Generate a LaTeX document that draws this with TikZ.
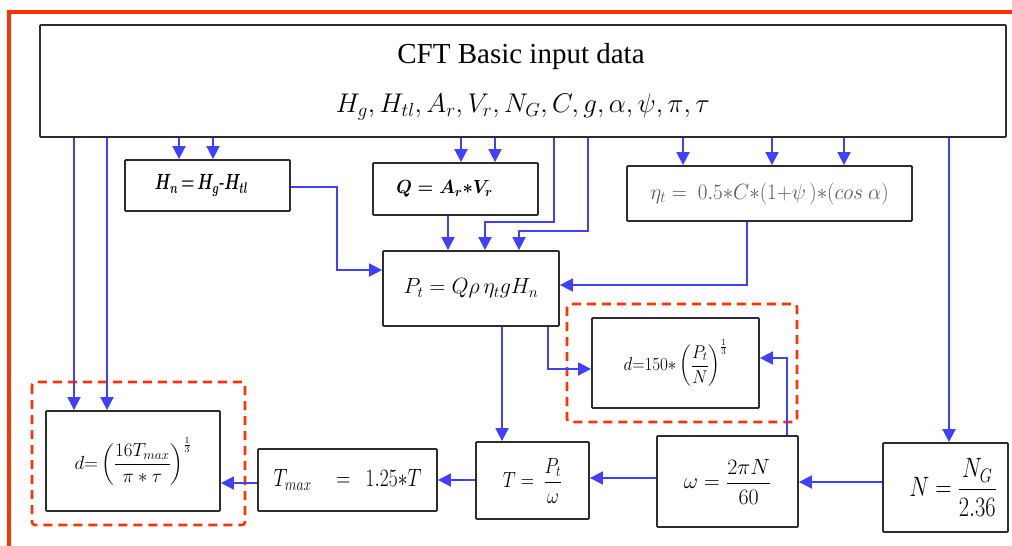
\RequirePackage{fix-cm}
\documentclass[tikz,border=0pt]{standalone}
\usepackage{amsmath}
\usepackage{fontspec}
\setmainfont{Liberation Serif}
\usetikzlibrary{arrows.meta}
\definecolor{lnblue}{RGB}{64,64,255}
\definecolor{frred}{RGB}{255,51,0}
\definecolor{boxgray}{RGB}{45,45,45}
\newcommand{\sqz}[2]{\scalebox{#1}[1]{#2}}
\begin{document}
\begin{tikzpicture}[x=1pt,y=-1pt,
  box/.style={draw=boxgray, line width=1.8pt, fill=white, inner sep=0pt, rounded corners=0.8pt, align=center},
  arr/.style={draw=lnblue, line width=1.8pt, -{Triangle[length=13pt,width=13pt]}},
  dashbox/.style={draw=frred, line width=2.6pt, dash pattern=on 9pt off 6pt, rounded corners=3pt},
  frame/.style={draw=frred, line width=4pt}]
\useasboundingbox (0,0) rectangle (1012,546);
% outer red frame
\draw[frame] (9,546) -- (9,12) -- (1012,12);
% boxes
\node[box, minimum width=966pt, minimum height=112pt] (top) at (523,81) {};
\node (title) at (521,57) {\fontsize{29}{32}\selectfont CFT Basic input data};
\node (vars) at (523,107) {\fontsize{27}{30}\selectfont $H_g,H_{tl},A_r,V_r,N_G,C,g,\alpha,\psi,\pi,\tau$};
\node[box, minimum width=165pt, minimum height=51pt] (hn) at (207.5,185.5) {\fontsize{22}{24}\selectfont\sqz{0.70}{$\boldsymbol{H_n\,{=}\,H_g\text{-}H_{tl}}$}\hspace*{12pt}};
\node[box, minimum width=165pt, minimum height=52pt] (q) at (455.5,189) {\fontsize{19}{21}\selectfont\sqz{0.95}{$\boldsymbol{Q = A_r{*}V_r}$}\hspace*{22pt}};
\node[box, minimum width=285pt, minimum height=55pt] (eta) at (769.5,193.5) {\fontsize{22}{24}\selectfont\color{black!65}\sqz{0.95}{$\eta_t =\ 0.5{*}C{*}(1{+}\psi\,){*}(cos\ \alpha)$}};
\node[box, minimum width=176pt, minimum height=75pt] (pt) at (471,288.5) {\fontsize{22}{24}\selectfont $P_t = Q\rho\,\eta_t g H_n$};
% dashed groups
\draw[dashbox] (567,304) rectangle (797,422);
\draw[dashbox] (32,382) rectangle (245,525);
\node[box, minimum width=167pt, minimum height=90pt] (dp) at (675.5,363) {\fontsize{18.5}{20}\selectfont\sqz{0.92}{$d{=}150{*}\left(\dfrac{P_t}{N}\right)^{\frac{1}{3}}$}};
\node[box, minimum width=174pt, minimum height=100pt] (dl) at (133,461) {\fontsize{19}{21}\selectfont $d{=}\left(\dfrac{16T_{max}}{\pi * \tau}\right)^{\frac{1}{3}}$};
\node[box, minimum width=179pt, minimum height=62pt] (tmax) at (347.5,480) {\fontsize{25}{27}\selectfont\sqz{0.78}{$T_{max}\quad=\ \ 1.25{*}T$}};
\node[box, minimum width=113pt, minimum height=77pt] (t) at (532.5,480.5) {\fontsize{22}{24}\selectfont\sqz{0.83}{$T =\ \dfrac{P_t}{\omega}$}};
\node[box, minimum width=141pt, minimum height=91pt] (om) at (727.5,481.5) {\fontsize{22}{24}\selectfont $\omega = \dfrac{2\pi N}{60}$};
\node[box, minimum width=125pt, minimum height=89pt] (n) at (945.5,487.5) {\fontsize{28}{30}\selectfont\hspace*{15pt}\sqz{0.8}{$N = \dfrac{N_G}{2.36}$}};
% helper coordinates
\coordinate (x74) at (74,0);
\coordinate (x107) at (107,0);
\coordinate (x179) at (179,0);
\coordinate (x213) at (213,0);
\coordinate (x461) at (461,0);
\coordinate (x495) at (495,0);
\coordinate (x554) at (554,0);
\coordinate (x588) at (588,0);
\coordinate (x485) at (485,0);
\coordinate (x519) at (519,0);
\coordinate (x448) at (448,0);
\coordinate (x683) at (683,0);
\coordinate (x772) at (772,0);
\coordinate (x844) at (844,0);
\coordinate (x949) at (949,0);
\coordinate (x337) at (337,0);
\coordinate (x747) at (747,0);
\coordinate (x502) at (502,0);
\coordinate (x548) at (548,0);
\coordinate (x787) at (787,0);
\coordinate (y187) at (0,187);
\coordinate (y270) at (0,270);
\coordinate (y285) at (0,285);
\coordinate (y222) at (0,222);
\coordinate (y231) at (0,231);
\coordinate (y369) at (0,369);
\coordinate (y358) at (0,358);
\coordinate (y482) at (0,482);
\coordinate (y478) at (0,478);
\coordinate (y480) at (0,480);
\coordinate (y483) at (0,483);
% connectors from top box
\draw[arr] (top.south -| x74) -- (dl.north -| x74);
\draw[arr] (top.south -| x107) -- (dl.north -| x107);
\draw[arr] (top.south -| x179) -- (hn.north -| x179);
\draw[arr] (top.south -| x213) -- (hn.north -| x213);
\draw[arr] (top.south -| x461) -- (q.north -| x461);
\draw[arr] (top.south -| x495) -- (q.north -| x495);
\draw[arr] (top.south -| x554) -- (x554 |- y222) -- (x485 |- y222) -- (pt.north -| x485);
\draw[arr] (top.south -| x588) -- (x588 |- y231) -- (x519 |- y231) -- (pt.north -| x519);
\draw[arr] (top.south -| x683) -- (eta.north -| x683);
\draw[arr] (top.south -| x772) -- (eta.north -| x772);
\draw[arr] (top.south -| x844) -- (eta.north -| x844);
\draw[arr] (top.south -| x949) -- (n.north -| x949);
% into Pt
\draw[arr] (hn.east |- y187) -- (x337 |- y187) -- (x337 |- y270) -- (pt.west |- y270);
\draw[arr] (q.south -| x448) -- (pt.north -| x448);
\draw[arr] (eta.south -| x747) -- (x747 |- y285) -- (pt.east |- y285);
% from Pt
\draw[arr] (pt.south -| x502) -- (t.north -| x502);
\draw[arr] (pt.south -| x548) -- (x548 |- y369) -- (dp.west |- y369);
% bottom chain
\draw[arr] (om.north -| x787) -- (x787 |- y358) -- (dp.east |- y358);
\draw[arr] (n.west |- y482) -- (om.east |- y482);
\draw[arr] (om.west |- y478) -- (t.east |- y478);
\draw[arr] (t.west |- y480) -- (tmax.east |- y480);
\draw[arr] (tmax.west |- y483) -- (dl.east |- y483);
\end{tikzpicture}
\end{document}
